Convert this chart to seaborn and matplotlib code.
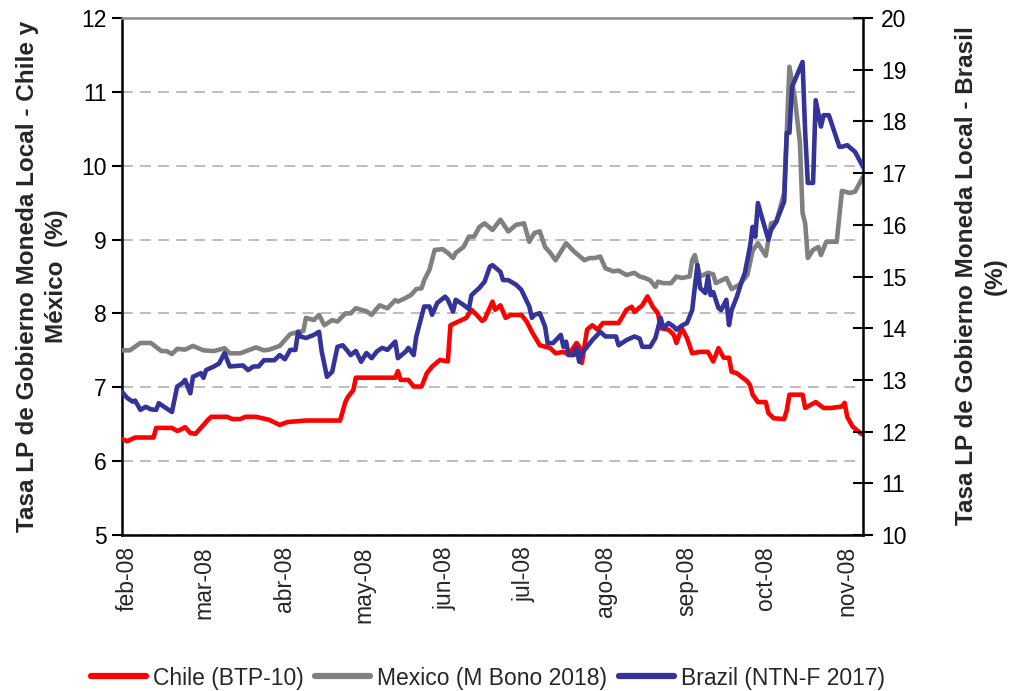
import matplotlib
matplotlib.use("Agg")
import matplotlib.pyplot as plt
from matplotlib.lines import Line2D
import seaborn as sns
import pandas as pd

# ---------------- data ----------------
chile_dates = ["2008-01-30","2008-02-01","2008-02-04","2008-02-11","2008-02-12","2008-02-18","2008-02-20","2008-02-21",
    "2008-02-23","2008-02-25","2008-02-27","2008-03-03","2008-03-04","2008-03-10","2008-03-12","2008-03-15","2008-03-17",
    "2008-03-21","2008-03-26","2008-03-30","2008-04-02","2008-04-09","2008-04-22","2008-04-24","2008-04-25","2008-04-27",
    "2008-04-28","2008-05-13","2008-05-14","2008-05-15","2008-05-18","2008-05-20","2008-05-23","2008-05-25","2008-05-27",
    "2008-05-30","2008-06-02","2008-06-03","2008-06-06","2008-06-09","2008-06-11","2008-06-13","2008-06-15","2008-06-16",
    "2008-06-19","2008-06-20","2008-06-22","2008-06-24","2008-06-26","2008-06-30","2008-07-02","2008-07-04","2008-07-07",
    "2008-07-11","2008-07-13","2008-07-16","2008-07-18","2008-07-21","2008-07-22","2008-07-23","2008-07-25","2008-07-27",
    "2008-07-29","2008-07-31","2008-08-06","2008-08-09","2008-08-11","2008-08-12","2008-08-15","2008-08-17","2008-08-19",
    "2008-08-21","2008-08-22","2008-08-25","2008-08-27","2008-08-28","2008-08-30","2008-09-01","2008-09-03","2008-09-06",
    "2008-09-09","2008-09-11","2008-09-13","2008-09-15","2008-09-17","2008-09-18","2008-09-20","2008-09-24","2008-09-25",
    "2008-09-26","2008-09-28","2008-10-01","2008-10-02","2008-10-04","2008-10-08","2008-10-09","2008-10-10","2008-10-15",
    "2008-10-16","2008-10-20","2008-10-23","2008-10-26","2008-10-30","2008-10-31","2008-11-01","2008-11-03","2008-11-06",
    "2008-11-07"]
chile_vals = [6.30,6.27,6.32,6.32,6.45,6.45,6.41,6.42,
    6.46,6.38,6.37,6.57,6.60,6.60,6.57,6.57,6.60,
    6.60,6.56,6.49,6.53,6.55,6.55,6.80,6.87,6.96,
    7.13,7.13,7.22,7.10,7.10,7.01,7.01,7.19,7.28,
    7.37,7.35,7.84,7.89,7.94,8.05,7.98,7.90,7.92,
    8.16,8.05,8.11,7.94,7.98,7.98,7.89,7.75,7.57,
    7.53,7.46,7.48,7.44,7.60,7.55,7.33,7.78,7.84,
    7.78,7.87,7.87,8.05,8.09,8.02,8.11,8.23,8.09,
    8.00,7.80,7.78,7.71,7.60,7.80,7.67,7.46,7.48,
    7.48,7.35,7.53,7.40,7.40,7.21,7.19,7.08,7.03,
    6.90,6.80,6.80,6.65,6.58,6.57,6.69,6.90,6.90,
    6.72,6.80,6.72,6.72,6.74,6.79,6.60,6.47,6.38,
    6.36]

mexico_dates = ["2008-01-30","2008-02-02","2008-02-06","2008-02-10","2008-02-14","2008-02-16","2008-02-18","2008-02-20",
    "2008-02-23","2008-02-26","2008-02-28","2008-03-01","2008-03-05","2008-03-09","2008-03-11","2008-03-15","2008-03-18",
    "2008-03-21","2008-03-24","2008-03-26","2008-03-30","2008-04-01","2008-04-03","2008-04-06","2008-04-08","2008-04-09",
    "2008-04-12","2008-04-14","2008-04-16","2008-04-19","2008-04-21","2008-04-24","2008-04-26","2008-04-28","2008-05-02",
    "2008-05-04","2008-05-07","2008-05-10","2008-05-13","2008-05-14","2008-05-17","2008-05-19","2008-05-21","2008-05-23",
    "2008-05-24","2008-05-26","2008-05-28","2008-05-31","2008-06-02","2008-06-04","2008-06-05","2008-06-08","2008-06-10",
    "2008-06-12","2008-06-14","2008-06-16","2008-06-19","2008-06-22","2008-06-25","2008-06-28","2008-07-01","2008-07-03",
    "2008-07-05","2008-07-07","2008-07-09","2008-07-11","2008-07-13","2008-07-17","2008-07-20","2008-07-24","2008-07-26",
    "2008-07-28","2008-07-30","2008-08-01","2008-08-04","2008-08-06","2008-08-09","2008-08-12","2008-08-14","2008-08-16",
    "2008-08-18","2008-08-20","2008-08-21","2008-08-23","2008-08-26","2008-08-28","2008-08-30","2008-09-02","2008-09-03",
    "2008-09-04","2008-09-06","2008-09-09","2008-09-11","2008-09-12","2008-09-16","2008-09-18","2008-09-21","2008-09-24",
    "2008-09-26","2008-09-28","2008-10-01","2008-10-03","2008-10-05","2008-10-08","2008-10-09","2008-10-10","2008-10-12",
    "2008-10-14","2008-10-15","2008-10-16","2008-10-17","2008-10-19","2008-10-21","2008-10-22","2008-10-24","2008-10-28",
    "2008-10-30","2008-11-02","2008-11-04","2008-11-07"]
mexico_vals = [7.50,7.50,7.60,7.60,7.49,7.49,7.45,7.52,
    7.51,7.56,7.53,7.50,7.49,7.53,7.46,7.46,7.50,
    7.54,7.50,7.51,7.56,7.64,7.72,7.75,7.76,7.94,
    7.91,7.98,7.84,7.91,7.89,8.00,8.00,8.07,8.03,
    7.98,8.11,8.07,8.18,8.16,8.21,8.25,8.33,8.34,
    8.45,8.59,8.86,8.87,8.82,8.75,8.82,8.90,9.04,
    9.04,9.17,9.22,9.13,9.27,9.11,9.20,9.22,8.97,
    9.09,9.11,8.90,8.82,8.72,8.95,8.84,8.72,8.75,
    8.75,8.77,8.61,8.57,8.58,8.52,8.55,8.50,8.48,
    8.45,8.36,8.43,8.41,8.41,8.50,8.48,8.50,8.72,
    8.79,8.50,8.55,8.53,8.41,8.48,8.33,8.39,8.52,
    8.85,8.95,8.78,9.22,9.24,9.63,10.46,11.34,10.93,
    10.31,9.36,9.22,8.75,8.86,8.90,8.79,8.97,8.97,
    9.66,9.63,9.65,9.85]

brazil_dates = ["2008-01-30","2008-02-01","2008-02-03","2008-02-04","2008-02-06","2008-02-08","2008-02-10","2008-02-12",
    "2008-02-13","2008-02-15","2008-02-18","2008-02-20","2008-02-22","2008-02-23","2008-02-25","2008-02-26","2008-02-29",
    "2008-03-01","2008-03-02","2008-03-05","2008-03-07","2008-03-09","2008-03-11","2008-03-16","2008-03-18","2008-03-20",
    "2008-03-22","2008-03-24","2008-03-28","2008-03-30","2008-04-01","2008-04-03","2008-04-05","2008-04-06","2008-04-07",
    "2008-04-09","2008-04-12","2008-04-14","2008-04-15","2008-04-17","2008-04-19","2008-04-21","2008-04-23","2008-04-25",
    "2008-04-26","2008-04-28","2008-04-30","2008-05-02","2008-05-04","2008-05-06","2008-05-08","2008-05-10","2008-05-13",
    "2008-05-14","2008-05-17","2008-05-18","2008-05-20","2008-05-21","2008-05-24","2008-05-26","2008-05-27","2008-05-29",
    "2008-06-01","2008-06-02","2008-06-04","2008-06-05","2008-06-08","2008-06-10","2008-06-11","2008-06-14","2008-06-16",
    "2008-06-18","2008-06-19","2008-06-22","2008-06-23","2008-06-25","2008-06-28","2008-06-30","2008-07-03","2008-07-04",
    "2008-07-05","2008-07-07","2008-07-09","2008-07-10","2008-07-12","2008-07-15","2008-07-16","2008-07-17","2008-07-18",
    "2008-07-20","2008-07-21","2008-07-22","2008-07-23","2008-07-25","2008-07-27","2008-07-30","2008-08-01","2008-08-05",
    "2008-08-06","2008-08-09","2008-08-12","2008-08-14","2008-08-15","2008-08-18","2008-08-20","2008-08-22","2008-08-23",
    "2008-08-25","2008-08-27","2008-08-28","2008-08-30","2008-09-01","2008-09-03","2008-09-04","2008-09-05","2008-09-06",
    "2008-09-08","2008-09-09","2008-09-10","2008-09-11","2008-09-13","2008-09-14","2008-09-16","2008-09-17","2008-09-18",
    "2008-09-20","2008-09-22","2008-09-23","2008-09-25","2008-09-26","2008-09-27","2008-09-28","2008-09-30","2008-10-02",
    "2008-10-03","2008-10-05","2008-10-08","2008-10-09","2008-10-10","2008-10-11","2008-10-15","2008-10-16","2008-10-17",
    "2008-10-19","2008-10-20","2008-10-22","2008-10-23","2008-10-25","2008-10-29","2008-10-30","2008-11-01","2008-11-04",
    "2008-11-07"]
brazil_vals = [12.77,12.65,12.58,12.60,12.42,12.48,12.43,12.42,
    12.55,12.48,12.38,12.87,12.94,13.00,12.74,13.06,13.13,
    13.04,13.19,13.26,13.32,13.52,13.26,13.28,13.19,13.26,
    13.26,13.38,13.38,13.48,13.40,13.58,13.58,13.93,13.84,
    13.81,13.87,13.93,13.55,13.06,13.16,13.64,13.67,13.55,
    13.48,13.56,13.35,13.52,13.42,13.55,13.62,13.58,13.74,
    13.42,13.55,13.62,13.48,13.84,14.42,14.42,14.26,14.49,
    14.61,14.55,14.32,14.55,14.45,14.37,14.64,14.78,14.90,
    15.19,15.22,15.09,14.93,14.93,14.84,14.74,14.42,14.20,
    14.26,14.29,14.03,13.71,13.71,13.87,13.64,13.74,13.48,
    13.48,13.62,13.35,13.52,13.64,13.77,13.93,13.84,13.84,
    13.67,13.77,13.84,13.80,13.64,13.64,13.81,14.20,14.00,
    14.10,14.03,13.97,14.05,14.10,14.35,14.80,15.22,14.78,
    14.68,15.00,14.64,14.70,14.39,14.35,14.55,14.06,14.35,
    14.61,14.93,15.06,15.58,15.96,15.77,16.42,16.06,15.71,
    15.90,16.06,16.45,17.78,17.78,18.67,19.15,17.78,16.81,
    16.81,18.41,17.90,18.12,18.12,17.51,17.51,17.54,17.41,
    17.12]

series_labels = ["Chile (BTP-10)", "Mexico (M Bono 2018)", "Brazil (NTN-F 2017)"]
month_ticks = ["2008-02-01","2008-03-01","2008-04-01","2008-05-01","2008-06-01",
               "2008-07-01","2008-08-01","2008-09-01","2008-10-01","2008-11-01"]
month_labels = ["feb-08","mar-08","abr-08","may-08","jun-08","jul-08","ago-08","sep-08","oct-08","nov-08"]
left_ylabel = "Tasa LP de Gobierno Moneda Local - Chile y\nMéxico  (%)"
right_ylabel = "Tasa LP de Gobierno Moneda Local - Brasil\n(%)"

# ---------------- style ----------------
sns.set_style("white")
plt.rcParams['font.family'] = ['Liberation Sans', 'DejaVu Sans']

colors = ["#ff0000", "#808080", "#333399"]
lw = 3.3
tick_fs = 16.5

fig = plt.figure(figsize=(10.11, 6.91), dpi=100)
ax = fig.add_axes([122/1011, 1-535/691, (863-122)/1011, (535-18)/691])
ax2 = ax.twinx()

df_c = pd.DataFrame({"date": pd.to_datetime(chile_dates), "val": chile_vals})
df_m = pd.DataFrame({"date": pd.to_datetime(mexico_dates), "val": mexico_vals})
df_b = pd.DataFrame({"date": pd.to_datetime(brazil_dates), "val": brazil_vals})

sns.lineplot(data=df_m, x="date", y="val", ax=ax, color=colors[1], lw=lw, zorder=3)
sns.lineplot(data=df_c, x="date", y="val", ax=ax, color=colors[0], lw=lw, zorder=4)
sns.lineplot(data=df_b, x="date", y="val", ax=ax2, color=colors[2], lw=lw, zorder=3)

ax.set_xlim(pd.Timestamp("2008-01-30"), pd.Timestamp("2008-11-07"))
ax.set_ylim(5, 12)
ax2.set_ylim(10, 20)
ax.set_yticks(range(5, 13))
ax2.set_yticks(range(10, 21))

ax.set_xticks(pd.to_datetime(month_ticks))
ax.set_xticklabels(month_labels, rotation=90, fontsize=tick_fs)
ax.tick_params(axis='x', length=0, pad=8)
ax.tick_params(axis='y', direction='out', length=7, width=1.5, labelsize=tick_fs, pad=4, colors='black')
ax2.tick_params(axis='y', direction='inout', length=14, width=1.5, labelsize=tick_fs, pad=6, colors='black')

ax.set_axisbelow(True)
ax.yaxis.grid(True, linestyle=(0, (6, 4)), color="#b8b8b8", lw=1.3)
ax.xaxis.grid(False)
ax2.grid(False)

for a in (ax, ax2):
    a.set_xlabel("")
    a.set_ylabel("")
    a.spines['top'].set_visible(False)
ax.spines['top'].set_visible(True)
ax.spines['top'].set_color("#8a8a8a")
ax.spines['top'].set_linewidth(1.8)
ax.spines['left'].set_color("black")
ax.spines['left'].set_linewidth(1.8)
ax.spines['bottom'].set_color("black")
ax.spines['bottom'].set_linewidth(1.8)
ax.spines['right'].set_visible(False)
ax2.spines['left'].set_visible(False)
ax2.spines['bottom'].set_visible(False)
ax2.spines['right'].set_color("black")
ax2.spines['right'].set_linewidth(1.8)

fig.text(42/1011, 1-276/691, left_ylabel, rotation=90, ha='center', va='center',
         multialignment='center', fontsize=17.5, fontweight='bold', linespacing=1.3)
fig.text(981/1011, 1-276/691, right_ylabel, rotation=90, ha='center', va='center',
         multialignment='center', fontsize=17.5, fontweight='bold', linespacing=1.3)

handles = [Line2D([0], [0], color=c, lw=4.5) for c in colors]
for a in (ax, ax2):
    if a.get_legend() is not None:
        a.get_legend().remove()
fig.legend(handles, series_labels, loc='center', bbox_to_anchor=(488/1011, 1-678/691), ncol=3,
           frameon=False, fontsize=16.5, handlelength=2.4, handletextpad=0.3, columnspacing=0.5)

fig.savefig("out.png", dpi=100)
